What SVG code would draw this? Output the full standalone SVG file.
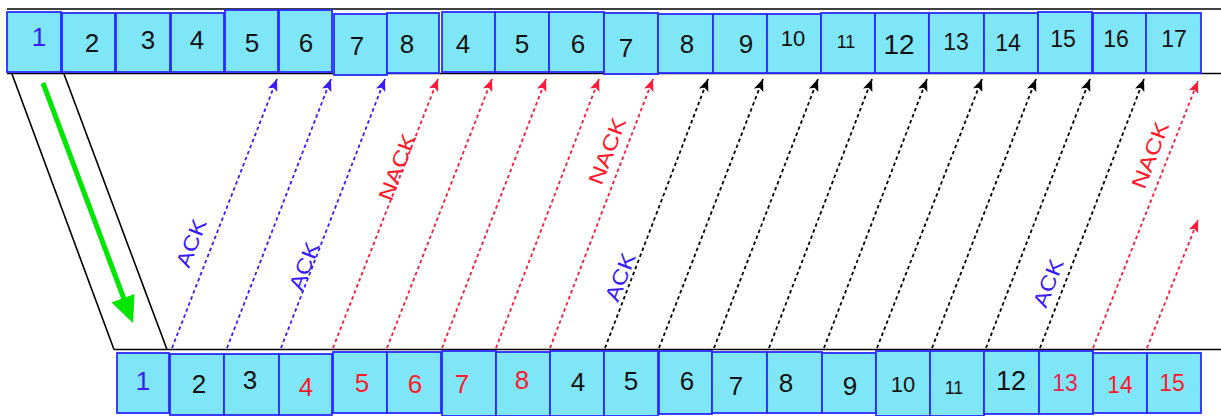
<svg xmlns="http://www.w3.org/2000/svg" width="1221" height="416" viewBox="0 0 1221 416">
<style>
.box{fill:#7fe6f8;stroke:#2a2aff;stroke-width:1.8}
.num{font-family:"Liberation Sans",Arial,sans-serif;font-size:26px;text-anchor:middle;fill:#111}
.blue{fill:#3a1aff}
.red{fill:#ff1a2a}
.lbl{font-family:"Liberation Sans",Arial,sans-serif;font-size:21px;text-anchor:middle;lengthAdjust:spacingAndGlyphs}
.rail{stroke:#000;stroke-width:1.6;fill:none}
.dash{fill:none;stroke-width:1.8;stroke-dasharray:3.5 3}
.cb{stroke:#3a1aff}
.cr{stroke:#ff1a3a}
.ck{stroke:#000}
</style>
<defs>
<marker id="ab" viewBox="0 0 12 10" refX="12" refY="5" markerWidth="12" markerHeight="10" markerUnits="userSpaceOnUse" orient="auto"><path d="M0,0 L12,5 L0,10 L2.5,5 z" fill="#3a1aff"/></marker>
<marker id="ar" viewBox="0 0 12 10" refX="12" refY="5" markerWidth="12" markerHeight="10" markerUnits="userSpaceOnUse" orient="auto"><path d="M0,0 L12,5 L0,10 L2.5,5 z" fill="#ff1a3a"/></marker>
<marker id="ak" viewBox="0 0 12 10" refX="12" refY="5" markerWidth="12" markerHeight="10" markerUnits="userSpaceOnUse" orient="auto"><path d="M0,0 L12,5 L0,10 L2.5,5 z" fill="#000"/></marker>
</defs>
<rect width="1221" height="416" fill="#fff"/>
<g id="rails">
<line class="rail" x1="7" y1="9" x2="1221" y2="9"/>
<line class="rail" x1="7" y1="73.5" x2="1221" y2="73.5"/>
<line class="rail" x1="114" y1="349.5" x2="1221" y2="349.5"/>
<line class="rail" x1="12" y1="74" x2="114" y2="349.5"/>
<line class="rail" x1="64" y1="74" x2="167" y2="349.5"/>
</g>
<g id="green-arrow">
<line x1="43" y1="83" x2="124" y2="299" stroke="#00e600" stroke-width="5"/>
<polygon points="133,323 134.5,294 111.5,302.5" fill="#00e600"/>
</g>
<g id="top-row">
<g id="t1"><rect class="box" x="7" y="12" width="54" height="60"/><text class="num blue" x="39" y="46">1</text></g>
<g id="t2"><rect class="box" x="62" y="13" width="53" height="59"/><text class="num" x="92" y="52">2</text></g>
<g id="t3"><rect class="box" x="116" y="13" width="54" height="59"/><text class="num" x="148" y="49">3</text></g>
<g id="t4"><rect class="box" x="171" y="13" width="53" height="59"/><text class="num" x="197" y="49">4</text></g>
<g id="t5"><rect class="box" x="225" y="10" width="53" height="62"/><text class="num" x="252" y="52">5</text></g>
<g id="t6"><rect class="box" x="279" y="10" width="53" height="62"/><text class="num" x="306" y="52">6</text></g>
<g id="t7"><rect class="box" x="334" y="14" width="53" height="61"/><text class="num" x="357" y="55">7</text></g>
<g id="t8"><rect class="box" x="387" y="13" width="52" height="60"/><text class="num" x="407" y="53">8</text></g>
<g id="t4b"><rect class="box" x="442" y="12" width="53" height="60"/><text class="num" x="463" y="53">4</text></g>
<g id="t5b"><rect class="box" x="495" y="12" width="54" height="60"/><text class="num" x="522" y="53">5</text></g>
<g id="t6b"><rect class="box" x="549" y="12" width="55" height="60"/><text class="num" x="578" y="53">6</text></g>
<g id="t7b"><rect class="box" x="604" y="13" width="54" height="61"/><text class="num" x="626" y="57">7</text></g>
<g id="t8b"><rect class="box" x="658" y="14" width="55" height="59"/><text class="num" x="687" y="53">8</text></g>
<g id="t9"><rect class="box" x="713" y="14" width="54" height="59"/><text class="num" x="746" y="53">9</text></g>
<g id="t10"><rect class="box" x="767" y="14" width="54" height="59"/><text class="num" x="793" y="46" style="font-size:22px">10</text></g>
<g id="t11"><rect class="box" x="821" y="13" width="54" height="60"/><text class="num" x="846" y="47.5" style="font-size:18px">11</text></g>
<g id="t12"><rect class="box" x="875" y="13" width="54" height="60"/><text class="num" x="899" y="54" style="font-size:28px">12</text></g>
<g id="t13"><rect class="box" x="929" y="13" width="55" height="60"/><text class="num" x="956" y="49.5" style="font-size:23px">13</text></g>
<g id="t14"><rect class="box" x="984" y="13" width="54" height="60"/><text class="num" x="1008" y="50.5" style="font-size:23px">14</text></g>
<g id="t15"><rect class="box" x="1038" y="12" width="54" height="61"/><text class="num" x="1063" y="46.5" style="font-size:23px">15</text></g>
<g id="t16"><rect class="box" x="1093" y="13" width="55" height="60"/><text class="num" x="1116" y="46.5" style="font-size:23px">16</text></g>
<g id="t17"><rect class="box" x="1146" y="13" width="55" height="60"/><text class="num" x="1174" y="46.5" style="font-size:23px">17</text></g>
</g>
<g id="bottom-row">
<g id="b1"><rect class="box" x="117" y="353" width="52" height="60"/><text class="num blue" x="143" y="390">1</text></g>
<g id="b2"><rect class="box" x="170" y="354" width="54" height="61"/><text class="num" x="199" y="393">2</text></g>
<g id="b3"><rect class="box" x="224" y="354" width="55" height="61"/><text class="num" x="250" y="389">3</text></g>
<g id="b4"><rect class="box" x="279" y="354" width="53" height="61"/><text class="num red" x="306" y="396">4</text></g>
<g id="b5"><rect class="box" x="333" y="352" width="54" height="61"/><text class="num red" x="362" y="392">5</text></g>
<g id="b6"><rect class="box" x="387" y="352" width="54" height="61"/><text class="num red" x="415" y="393">6</text></g>
<g id="b7"><rect class="box" x="442" y="351" width="54" height="65"/><text class="num red" x="462" y="393">7</text></g>
<g id="b8"><rect class="box" x="496" y="352" width="54" height="64"/><text class="num red" x="522" y="389">8</text></g>
<g id="b4b"><rect class="box" x="550" y="351" width="54" height="65"/><text class="num" x="578" y="391">4</text></g>
<g id="b5b"><rect class="box" x="604" y="351" width="54" height="65"/><text class="num" x="631" y="390">5</text></g>
<g id="b6b"><rect class="box" x="659" y="351" width="53" height="63"/><text class="num" x="687" y="390">6</text></g>
<g id="b7b"><rect class="box" x="712" y="352" width="55" height="61"/><text class="num" x="736" y="395">7</text></g>
<g id="b8b"><rect class="box" x="767" y="352" width="55" height="61"/><text class="num" x="786" y="392">8</text></g>
<g id="b9"><rect class="box" x="822" y="353" width="54" height="60"/><text class="num" x="850" y="395">9</text></g>
<g id="b10"><rect class="box" x="876" y="351" width="54" height="65"/><text class="num" x="903" y="392" style="font-size:22px">10</text></g>
<g id="b11"><rect class="box" x="930" y="351" width="54" height="65"/><text class="num" x="954" y="393.5" style="font-size:18px">11</text></g>
<g id="b12"><rect class="box" x="984" y="351" width="55" height="63"/><text class="num" x="1011" y="389.5" style="font-size:27px">12</text></g>
<g id="b13"><rect class="box" x="1039" y="351" width="54" height="63"/><text class="num" x="1065" y="390.5" style="font-size:23px;fill:#ee1f4f">13</text></g>
<g id="b14"><rect class="box" x="1093" y="353" width="54" height="60"/><text class="num red" x="1120" y="392.5" style="font-size:23px">14</text></g>
<g id="b15"><rect class="box" x="1147" y="353" width="54" height="60"/><text class="num red" x="1172" y="390.5" style="font-size:23px">15</text></g>
</g>
<g id="connectors">
<line class="dash cb" x1="172" y1="348" x2="277" y2="79" marker-end="url(#ab)"/>
<line class="dash cb" x1="227" y1="348" x2="331" y2="79" marker-end="url(#ab)"/>
<line class="dash cb" x1="281" y1="348" x2="385" y2="79" marker-end="url(#ab)"/>
<line class="dash cr" x1="333" y1="348" x2="438" y2="79" marker-end="url(#ar)"/>
<line class="dash cr" x1="387" y1="348" x2="492" y2="79" marker-end="url(#ar)"/>
<line class="dash cr" x1="442" y1="348" x2="546" y2="79" marker-end="url(#ar)"/>
<line class="dash cr" x1="496" y1="348" x2="599" y2="79" marker-end="url(#ar)"/>
<line class="dash cr" x1="550" y1="348" x2="653" y2="79" marker-end="url(#ar)"/>
<line class="dash ck" x1="605" y1="348" x2="708" y2="79" marker-end="url(#ak)"/>
<line class="dash ck" x1="659" y1="348" x2="763" y2="79" marker-end="url(#ak)"/>
<line class="dash ck" x1="714" y1="348" x2="818" y2="79" marker-end="url(#ak)"/>
<line class="dash ck" x1="769" y1="348" x2="872" y2="79" marker-end="url(#ak)"/>
<line class="dash ck" x1="824" y1="348" x2="927" y2="79" marker-end="url(#ak)"/>
<line class="dash ck" x1="877" y1="348" x2="982" y2="79" marker-end="url(#ak)"/>
<line class="dash ck" x1="932" y1="348" x2="1036" y2="79" marker-end="url(#ak)"/>
<line class="dash ck" x1="986" y1="348" x2="1090" y2="79" marker-end="url(#ak)"/>
<line class="dash ck" x1="1040" y1="348" x2="1144" y2="79" marker-end="url(#ak)"/>
<line class="dash cr" x1="1093" y1="348" x2="1198" y2="81" marker-end="url(#ar)"/>
<line class="dash cr" x1="1147" y1="348" x2="1198" y2="220" marker-end="url(#ar)"/>
</g>
<g id="labels">
<text class="lbl blue" transform="translate(191,243) rotate(-69)" y="7.5" textLength="50" lengthAdjust="spacingAndGlyphs">ACK</text>
<text class="lbl blue" transform="translate(304,266) rotate(-69)" y="7.5" textLength="50" lengthAdjust="spacingAndGlyphs">ACK</text>
<text class="lbl red" transform="translate(397,167) rotate(-69)" y="7.5" textLength="70" lengthAdjust="spacingAndGlyphs">NACK</text>
<text class="lbl red" transform="translate(607,151) rotate(-69)" y="7.5" textLength="70" lengthAdjust="spacingAndGlyphs">NACK</text>
<text class="lbl blue" transform="translate(620,277) rotate(-69)" y="7.5" textLength="50" lengthAdjust="spacingAndGlyphs">ACK</text>
<text class="lbl blue" transform="translate(1048,283) rotate(-69)" y="7.5" textLength="50" lengthAdjust="spacingAndGlyphs">ACK</text>
<text class="lbl red" transform="translate(1150,155) rotate(-69)" y="7.5" textLength="70" lengthAdjust="spacingAndGlyphs">NACK</text>
</g>
</svg>
